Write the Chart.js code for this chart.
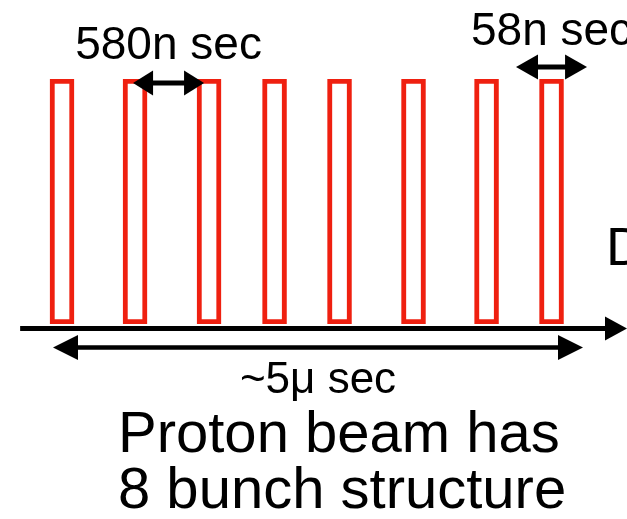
<!DOCTYPE html>
<html>
<head>
<meta charset="utf-8">
<script src="https://cdn.jsdelivr.net/npm/chart.js@4"></script>
<style>
  html, body { margin: 0; padding: 0; background: #fff; overflow: hidden; }
  canvas { display: block; }
</style>
</head>
<body>
<canvas id="bunchChart" width="627" height="519"></canvas>
<script>
// bunch centre times (ns from start of spill) and relative heights
const bunchTimes = [85, 774, 1472, 2090, 2703, 3401, 4090, 4703];
const bunchHeights = [1, 1, 1, 1, 1, 1, 1, 1];

// annotated spans on the time axis (ns)
const gapSpan = [755, 1425];     // bunch spacing
const widthSpan = [4368, 5038];  // bunch width
const spillSpan = [0, 5000];     // whole spill
const axisSpan = [-310, 5415];

const spanLabels = ['580n sec', '58n sec', '~5μ sec'];
const captionLines = ['Proton beam has', '8 bunch structure'];
const sideLabel = 'D';

const RED = '#ef2010';
const FONT = '"Liberation Sans", Arial, sans-serif';

function drawArrow(ctx, x1, x2, y, lw, headLen, headH, both) {
  ctx.save();
  ctx.fillStyle = '#000';
  ctx.strokeStyle = '#000';
  ctx.lineWidth = lw;
  ctx.beginPath();
  ctx.moveTo(both ? x1 + headLen - 2 : x1, y);
  ctx.lineTo(x2 - headLen + 2, y);
  ctx.stroke();
  ctx.beginPath();
  ctx.moveTo(x2, y);
  ctx.lineTo(x2 - headLen, y - headH / 2);
  ctx.lineTo(x2 - headLen, y + headH / 2);
  ctx.closePath();
  ctx.fill();
  if (both) {
    ctx.beginPath();
    ctx.moveTo(x1, y);
    ctx.lineTo(x1 + headLen, y - headH / 2);
    ctx.lineTo(x1 + headLen, y + headH / 2);
    ctx.closePath();
    ctx.fill();
  }
  ctx.restore();
}

const annotations = {
  id: 'annotations',
  afterDatasetsDraw(chart) {
    const { ctx, scales: { x, y } } = chart;
    const base = y.getPixelForValue(0);
    const top = y.getPixelForValue(1);

    // time axis
    drawArrow(ctx, x.getPixelForValue(axisSpan[0]), x.getPixelForValue(axisSpan[1]),
      base + 4.5, 5, 22, 24, false);
    // spill length
    drawArrow(ctx, x.getPixelForValue(spillSpan[0]), x.getPixelForValue(spillSpan[1]),
      base + 23.5, 4.5, 25, 25, true);
    // bunch spacing and width
    drawArrow(ctx, x.getPixelForValue(gapSpan[0]), x.getPixelForValue(gapSpan[1]),
      top + 4, 5, 20, 25, true);
    drawArrow(ctx, x.getPixelForValue(widthSpan[0]), x.getPixelForValue(widthSpan[1]),
      top - 12, 5, 22, 25, true);

    ctx.save();
    ctx.fillStyle = '#000';
    ctx.textBaseline = 'alphabetic';
    ctx.textAlign = 'center';
    ctx.font = '46px ' + FONT;
    ctx.fillText(spanLabels[0], x.getPixelForValue((gapSpan[0] + gapSpan[1]) / 2), top - 20);
    ctx.fillText(spanLabels[1], x.getPixelForValue((widthSpan[0] + widthSpan[1]) / 2), top - 34);
    ctx.font = '44px ' + FONT;
    ctx.fillText(spanLabels[2], x.getPixelForValue((spillSpan[0] + spillSpan[1]) / 2), base + 69);

    ctx.textAlign = 'left';
    ctx.font = '58px ' + FONT;
    ctx.fillText(captionLines[0], 118, base + 128);
    ctx.fillText(captionLines[1], 118, base + 184);
    ctx.font = '54px ' + FONT;
    ctx.fillText(sideLabel, 606, base - 59);
    ctx.restore();
  }
};

new Chart(document.getElementById('bunchChart'), {
  type: 'bar',
  data: {
    datasets: [{
      data: bunchTimes.map((t, i) => ({ x: t, y: bunchHeights[i] })),
      backgroundColor: '#fff',
      borderColor: RED,
      borderWidth: 5,
      borderSkipped: false,
      barThickness: 24,
    }],
  },
  options: {
    responsive: false,
    animation: false,
    layout: { padding: { top: 79, bottom: 195, left: 0, right: 0 } },
    plugins: {
      legend: { display: false },
      tooltip: { enabled: false },
    },
    scales: {
      x: { type: 'linear', min: -500, max: 5415, offset: false, display: false },
      y: { min: 0, max: 1, display: false },
    },
  },
  plugins: [annotations],
});
</script>
</body>
</html>
